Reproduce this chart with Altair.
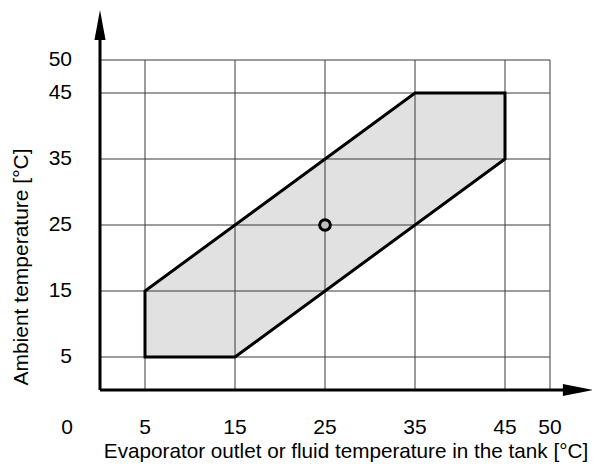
import altair as alt
import pandas as pd

# ---- data ----
x_ticks = [5, 15, 25, 35, 45, 50]
y_ticks = [5, 15, 25, 35, 45, 50]
x_tick_labels = ["5", "15", "25", "35", "45", "50"]
y_tick_labels = ["5", "15", "25", "35", "45", "50"]
grid_min = 0
grid_max = 50

env_x = [5, 15, 35, 45]
env_low = [5, 5, 25, 35]
env_high = [15, 25, 45, 45]

outline_x = [5, 15, 45, 45, 35, 5, 5]
outline_y = [5, 5, 35, 45, 45, 15, 5]

design_x = [25]
design_y = [25]

x_title = "Evaporator outlet or fluid temperature in the tank [°C]"
y_title = "Ambient temperature [°C]"
origin_label = ["0"]

# axis extents (arrow heads) in data units
x_axis_end = 52.5
y_axis_end = 54.0
x_arrow_at = 53.1
y_arrow_at = 55.3

# ---- frames ----
PX_PER_X = 9.0
PX_PER_Y = 6.6
W, H = 492, 380
x_max = W / PX_PER_X
y_max = H / PX_PER_Y

FONT = "Liberation Sans"
FS = 21

xs = alt.Scale(domain=[0, x_max], nice=False, zero=False)
ys = alt.Scale(domain=[0, y_max], nice=False, zero=False)


def X(f):
    return alt.X(f, type="quantitative", scale=xs, axis=None)


def Y(f):
    return alt.Y(f, type="quantitative", scale=ys, axis=None)


env_df = pd.DataFrame({"x": env_x, "lo": env_low, "hi": env_high})
outline_df = pd.DataFrame({"x": outline_x, "y": outline_y, "i": list(range(len(outline_x)))})
vgrid_df = pd.DataFrame({"x": x_ticks, "y0": [grid_min] * len(x_ticks), "y1": [grid_max] * len(x_ticks)})
hgrid_df = pd.DataFrame({"y": y_ticks, "x0": [grid_min] * len(y_ticks), "x1": [grid_max] * len(y_ticks)})
point_df = pd.DataFrame({"x": design_x, "y": design_y})
xaxis_df = pd.DataFrame({"x0": [0], "x1": [x_axis_end], "y": [0]})
yaxis_df = pd.DataFrame({"y0": [0], "y1": [y_axis_end], "x": [0]})
xarrow_df = pd.DataFrame({"x": [x_arrow_at], "y": [0]})
yarrow_df = pd.DataFrame({"x": [0], "y": [y_arrow_at]})
origin_df = pd.DataFrame({"x": [0], "y": [0], "t": origin_label})
xlab_df = pd.DataFrame({"x": x_ticks, "y": [0] * len(x_ticks), "t": x_tick_labels})
ylab_df = pd.DataFrame({"x": [0] * len(y_ticks), "y": y_ticks, "t": y_tick_labels})
xtitle_df = pd.DataFrame({"t": [x_title]})
ytitle_df = pd.DataFrame({"t": [y_title]})

area = alt.Chart(env_df).mark_area(color="#e1e1e1", opacity=1).encode(
    x=X("x"), y=Y("lo"), y2="hi"
)

vgrid = alt.Chart(vgrid_df).mark_rule(color="#3a3a3a", strokeWidth=1).encode(
    x=X("x"), y=Y("y0"), y2="y1"
)
hgrid = alt.Chart(hgrid_df).mark_rule(color="#3a3a3a", strokeWidth=1).encode(
    y=Y("y"), x=X("x0"), x2="x1"
)

outline = alt.Chart(outline_df).mark_line(
    color="black", strokeWidth=3, strokeJoin="miter", strokeCap="square"
).encode(x=X("x"), y=Y("y"), order="i:Q")

xaxis_line = alt.Chart(xaxis_df).mark_rule(color="black", strokeWidth=3).encode(
    x=X("x0"), x2="x1", y=Y("y")
)
yaxis_line = alt.Chart(yaxis_df).mark_rule(color="black", strokeWidth=3).encode(
    y=Y("y0"), y2="y1", x=X("x")
)

xarrow = alt.Chart(xarrow_df).mark_point(
    shape="M-1,-0.4 L1,0 L-1,0.4 Z", filled=True, color="black", opacity=1, size=900
).encode(x=X("x"), y=Y("y"))
yarrow = alt.Chart(yarrow_df).mark_point(
    shape="M-0.37,1 L0,-1 L0.37,1 Z", filled=True, color="black", opacity=1, size=900
).encode(x=X("x"), y=Y("y"))

point = alt.Chart(point_df).mark_point(
    shape="circle", filled=False, fill="#bdbdbd", fillOpacity=1, stroke="black",
    strokeWidth=3, size=115, opacity=1
).encode(x=X("x"), y=Y("y"))

origin = alt.Chart(origin_df).mark_text(
    font=FONT, fontSize=FS, color="black", dx=-33, dy=38, baseline="middle", align="center"
).encode(x=X("x"), y=Y("y"), text="t:N")

xlabels = alt.Chart(xlab_df).mark_text(
    font=FONT, fontSize=FS, color="black", dy=38, baseline="middle", align="center"
).encode(x=X("x"), y=Y("y"), text="t:N")

ylabels = alt.Chart(ylab_df).mark_text(
    font=FONT, fontSize=FS, color="black", dx=-28, baseline="middle", align="right"
).encode(x=X("x"), y=Y("y"), text="t:N")

xtitle = alt.Chart(xtitle_df).mark_text(
    font=FONT, fontSize=20.7, color="black", baseline="alphabetic", align="center"
).encode(x=alt.value(246), y=alt.value(448), text="t:N")

ytitle = alt.Chart(ytitle_df).mark_text(
    font=FONT, fontSize=FS, color="black", baseline="middle", align="center", angle=270
).encode(x=alt.value(-78), y=alt.value(257), text="t:N")

chart = alt.layer(
    area, vgrid, hgrid, outline, xaxis_line, yaxis_line, xarrow, yarrow, point,
    origin, xlabels, ylabels, xtitle, ytitle
).properties(
    width=W, height=H,
    background="white",
    autosize=alt.AutoSizeParams(type="none"),
    padding={"left": 92, "top": 2, "right": 0, "bottom": 72},
).configure_view(stroke=None)

chart.save("out.html", embed_options={"renderer": "svg", "actions": False})
